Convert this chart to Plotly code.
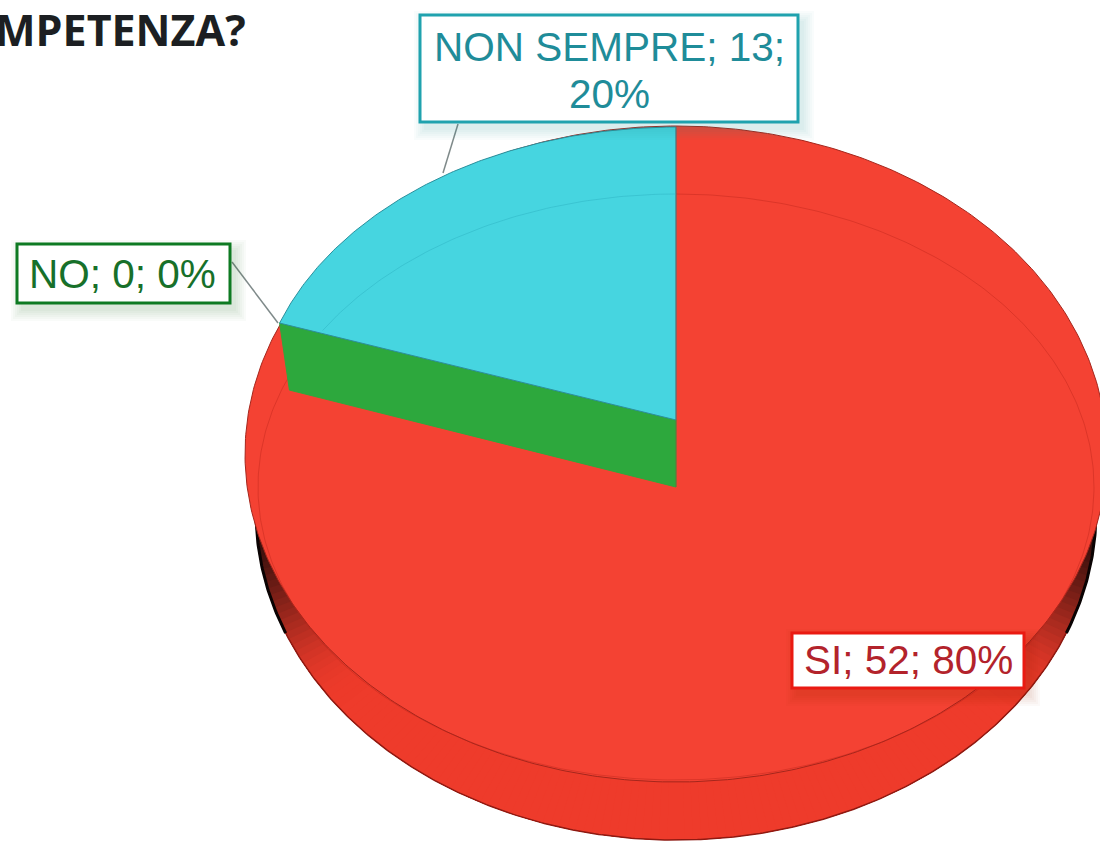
import numpy as np
import plotly.graph_objects as go

# ---- data ----
categories = ["SI", "NO", "NON SEMPRE"]
counts = [52, 0, 13]
title_text = "MPETENZA?"

# ---- style ----
RED = "#F44233"
BLUE = "#46D5E0"
GREEN = "#2DA83D"
SI_TEXT, NO_TEXT, NS_TEXT = "#B3232B", "#17702A", "#1F8C99"
SI_EDGE, NO_EDGE, NS_EDGE = "#EA1A12", "#0E7A22", "#1FA2AE"
FONT = "Liberation Sans"

total = sum(counts)
share = {c: v / total for c, v in zip(categories, counts)}
labels = {c: f"{c}; {v}; {round(100 * v / total)}%" for c, v in zip(categories, counts)}

# pie geometry on the 1100x841 canvas
CX = 676
TOP = dict(cy=454, rx=431, ry=328)     # red top surface outline
WALL = dict(cy=512, rx=420, ry=328)    # lower outline of the side wall
INNER = dict(cy=487, rx=418, ry=293)   # faint seam on the red surface
LIFT = dict(cy=420, rx=420, ry=293)    # raised NON SEMPRE slice
K = 0.927                              # foreshortening of the slice angle


def ell(e, t):
    return CX + e["rx"] * np.sin(t), e["cy"] - e["ry"] * np.cos(t)


def proj(theta):
    return np.arctan2(K * np.sin(theta), np.cos(theta))


fig = go.Figure()


def poly(x, y, fill, line=None, w=1):
    fig.add_trace(go.Scatter(x=list(x), y=list(y), mode="lines", fill="toself", fillcolor=fill,
                             line=dict(color=line or fill, width=w), hoverinfo="skip", showlegend=False))


def stroke(x, y, color, w=1):
    fig.add_trace(go.Scatter(x=list(x), y=list(y), mode="lines", line=dict(color=color, width=w),
                             hoverinfo="skip", showlegend=False))


# side wall with a shaded band: each sector runs on under the next one, so no seams show
edges = np.linspace(np.pi / 2 - 0.25, 3 * np.pi / 2 + 0.25, 181)
for i, a in enumerate(edges[:-1]):
    mid = (a + edges[i + 1]) / 2
    t = np.linspace(a, min(a + 0.3, edges[-1]), 10)
    wx, wy = ell(WALL, t)
    s = abs(np.sin(mid))
    dark = np.clip((s - 0.80) / 0.20, 0, 1) ** 2.6
    col = f"rgb({int(238 - 190 * dark)},{int(59 - 45 * dark)},{int(43 - 32 * dark)})"
    poly(np.r_[CX, wx], np.r_[TOP["cy"], wy], col, w=0)

# wall edge: black at the far sides, dark red along the front
t = np.linspace(np.pi / 2, 3 * np.pi / 2, 400)
wx, wy = ell(WALL, t)
stroke(wx, wy, "#8E1A12", 1.5)
for side in (np.abs(t - np.pi / 2) < 0.38, np.abs(t - 3 * np.pi / 2) < 0.38):
    stroke(wx[side], wy[side], "#0A0303", 3)

# red top surface
t = np.linspace(0, 2 * np.pi, 500)
tx, ty = ell(TOP, t)
poly(tx, ty, RED, "#A5261C", 1)

# faint seam
ix, iy = ell(INNER, t)
stroke(ix, iy, "rgba(185,35,25,0.4)", 1)

# raised slice and the green wall beneath it
theta = proj(2 * np.pi * share["NON SEMPRE"])
ang = np.linspace(-theta, 0, 160)
lx, ly = ell(LIFT, ang)
ex, ey = ell(LIFT, np.array([-theta]))
bx, by = CX - 0.98 * INNER["rx"] * np.sin(theta), INNER["cy"] - INNER["ry"] * np.cos(theta)
poly([CX, ex[0], bx, CX, CX], [LIFT["cy"], ey[0], by, INNER["cy"], LIFT["cy"]], GREEN)
poly(np.r_[CX, lx, CX], np.r_[LIFT["cy"], ly, LIFT["cy"]], BLUE, "#2B8F9C", 1)

# seam seen through the raised slice
seam_edge = LIFT["cy"] - (CX - ix) * (LIFT["cy"] - ey[0]) / (CX - ex[0])
mask = (ix < CX) & (iy < seam_edge)
order = np.argsort(ix[mask])
stroke(ix[mask][order], iy[mask][order], "rgba(50,185,200,0.6)", 1)
stroke([CX, CX], [LIFT["cy"] - LIFT["ry"], INNER["cy"]], "rgba(150,70,60,0.5)", 1)

shapes = []


def box(x0, y0, x1, y1, edge, shadow):
    for i in range(6, 0, -1):
        d = i * 2
        shapes.append(dict(type="rect", xref="x", yref="y", x0=x0 - d + 6, x1=x1 + d + 4, y0=y0 - d + 8, y1=y1 + d + 6,
                           line=dict(width=0), fillcolor=f"rgba({shadow},0.028)"))
    shapes.append(dict(type="rect", xref="x", yref="y", x0=x0, x1=x1, y0=y0, y1=y1,
                       line=dict(color=edge, width=3), fillcolor="white"))


for xs, ys in (((443, 458), (173, 124)), ((278, 232), (323, 262))):
    shapes.append(dict(type="line", xref="x", yref="y", x0=xs[0], x1=xs[1], y0=ys[0], y1=ys[1],
                       line=dict(color="#7F8A8A", width=1.5)))
box(420, 15, 798, 122, NS_EDGE, "30,130,140")
box(17, 244, 230, 303, NO_EDGE, "30,110,50")
box(792, 633, 1024, 688, SI_EDGE, "150,20,15")


def text(x, y, s, color, size=40.5, family=FONT, anchor="center", bold=False):
    return dict(x=x, y=y, xref="x", yref="y", text=f"<b>{s}</b>" if bold else s, showarrow=False,
                xanchor=anchor, yanchor="middle", font=dict(family=family, size=size, color=color))


ns_head, ns_tail = labels["NON SEMPRE"].rsplit(" ", 1)
annotations = [
    text(248, 29, title_text, "#1C1F22", size=43, family="Open Sans", anchor="right", bold=True),
    text(609, 47, ns_head, NS_TEXT),
    text(609, 94, ns_tail, NS_TEXT),
    text(122, 274, labels["NO"], NO_TEXT),
    text(908, 660, labels["SI"], SI_TEXT),
]

fig.update_layout(
    width=1100, height=841, autosize=False,
    margin=dict(l=0, r=0, t=0, b=0),
    paper_bgcolor="white", plot_bgcolor="white", showlegend=False,
    xaxis=dict(range=[0, 1100], visible=False, fixedrange=True),
    yaxis=dict(range=[841, 0], visible=False, fixedrange=True),
    shapes=shapes, annotations=annotations,
)
fig.write_html("out.html", config=dict(displayModeBar=False),
               post_script="document.body.style.margin='0';document.body.style.overflow='hidden';")
